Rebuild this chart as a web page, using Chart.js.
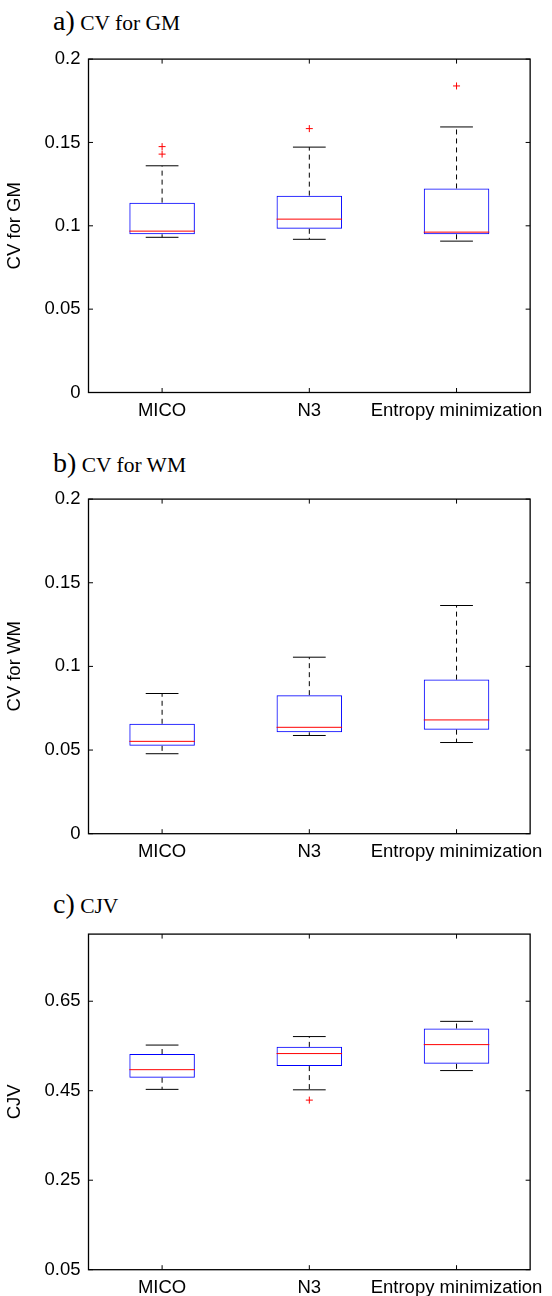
<!DOCTYPE html>
<html><head><meta charset="utf-8">
<script src="https://cdn.jsdelivr.net/npm/chart.js@4.4.1/dist/chart.umd.min.js"></script>
<style>
html,body{margin:0;padding:0;background:#fff;}
#wrap{position:relative;width:552px;height:1296px;overflow:hidden;background:#fff;}
.panel{position:absolute;left:0;width:552px;}
.ttl{position:absolute;left:53px;font-family:"Liberation Serif","Times New Roman",serif;font-size:28px;line-height:30px;white-space:nowrap;color:#000;}
.ttl span{font-size:21.5px;}
</style></head><body>
<div id="wrap">
<div class="ttl" style="top:5.5px">a)<span> CV for GM</span></div>
<div class="ttl" style="top:447.5px">b)<span> CV for WM</span></div>
<div class="ttl" style="top:888.5px">c)<span> CJV</span></div>
<div class="panel" style="top:40px;height:400px"><canvas id="cA" width="552" height="400"></canvas></div>
<div class="panel" style="top:480px;height:400px"><canvas id="cB" width="552" height="400"></canvas></div>
<div class="panel" style="top:915px;height:381px"><canvas id="cC" width="552" height="381"></canvas></div>
</div>
<script>
const categories = ['MICO', 'N3', 'Entropy minimization'];

// a) CV for GM
const gmLowerWhisker = [0.0931, 0.0919, 0.0908];
const gmQ1 = [0.0949, 0.0982, 0.0949];
const gmMedian = [0.0968, 0.1040, 0.0962];
const gmQ3 = [0.1139, 0.1181, 0.1224];
const gmUpperWhisker = [0.1360, 0.1472, 0.1593];
const gmOutlierCat = ['MICO', 'MICO', 'N3', 'Entropy minimization'];
const gmOutlierVal = [0.1475, 0.1430, 0.1583, 0.1839];
const gmTicks = [0, 0.05, 0.1, 0.15, 0.2];
const gmTickLabels = ['0', '0.05', '0.1', '0.15', '0.2'];

// b) CV for WM
const wmLowerWhisker = [0.0478, 0.0587, 0.0545];
const wmQ1 = [0.0525, 0.0606, 0.0622];
const wmMedian = [0.0552, 0.0636, 0.0680];
const wmQ3 = [0.0657, 0.0828, 0.0921];
const wmUpperWhisker = [0.0838, 0.1055, 0.1364];
const wmOutlierCat = [];
const wmOutlierVal = [];
const wmTicks = [0, 0.05, 0.1, 0.15, 0.2];
const wmTickLabels = ['0', '0.05', '0.1', '0.15', '0.2'];

// c) CJV
const cjvLowerWhisker = [0.453, 0.452, 0.495];
const cjvQ1 = [0.479, 0.505, 0.510];
const cjvMedian = [0.497, 0.533, 0.553];
const cjvQ3 = [0.532, 0.548, 0.589];
const cjvUpperWhisker = [0.552, 0.571, 0.605];
const cjvOutlierCat = ['N3'];
const cjvOutlierVal = [0.429];
const cjvTicks = [0.05, 0.25, 0.45, 0.65];
const cjvTickLabels = ['0.05', '0.25', '0.45', '0.65'];

const FONT = '"Liberation Sans", Arial, Helvetica, sans-serif';

function boxPlugin(lw, med, uw) {
  return {
    id: 'boxDetails',
    afterDatasetsDraw(chart) {
      const ctx = chart.ctx, x = chart.scales.x, y = chart.scales.y;
      const meta = chart.getDatasetMeta(0);
      ctx.save();
      meta.data.forEach((bar, i) => {
        const cx = x.getPixelForValue(i);
        const hw = bar.width / 2, cw = hw / 2;
        const [q1, q3] = chart.data.datasets[0].data[i];
        const pQ1 = y.getPixelForValue(q1), pQ3 = y.getPixelForValue(q3);
        const pL = y.getPixelForValue(lw[i]), pU = y.getPixelForValue(uw[i]);
        const pM = y.getPixelForValue(med[i]);
        ctx.lineWidth = 1;
        ctx.strokeStyle = '#000';
        ctx.setLineDash([5, 4]);
        ctx.beginPath();
        ctx.moveTo(cx, pQ3); ctx.lineTo(cx, pU);
        ctx.moveTo(cx, pQ1); ctx.lineTo(cx, pL);
        ctx.stroke();
        ctx.setLineDash([]);
        ctx.beginPath();
        ctx.moveTo(cx - cw, pU); ctx.lineTo(cx + cw, pU);
        ctx.moveTo(cx - cw, pL); ctx.lineTo(cx + cw, pL);
        ctx.stroke();
        ctx.strokeStyle = '#ff0000';
        ctx.beginPath();
        ctx.moveTo(cx - hw, pM); ctx.lineTo(cx + hw, pM);
        ctx.stroke();
      });
      ctx.restore();
    }
  };
}

const framePlugin = {
  id: 'frame',
  afterDraw(chart) {
    const ctx = chart.ctx, a = chart.chartArea, x = chart.scales.x, y = chart.scales.y;
    const tl = 4.5;
    ctx.save();
    ctx.strokeStyle = '#000';
    ctx.lineWidth = 1.3;
    ctx.strokeRect(a.left, a.top, a.right - a.left, a.bottom - a.top);
    ctx.lineWidth = 1;
    ctx.beginPath();
    y.ticks.forEach((t, i) => {
      const py = y.getPixelForTick(i);
      ctx.moveTo(a.left, py); ctx.lineTo(a.left + tl, py);
      ctx.moveTo(a.right, py); ctx.lineTo(a.right - tl, py);
    });
    x.ticks.forEach((t, i) => {
      const px = x.getPixelForTick(i);
      ctx.moveTo(px, a.bottom); ctx.lineTo(px, a.bottom - tl);
      ctx.moveTo(px, a.top); ctx.lineTo(px, a.top + tl);
    });
    ctx.stroke();
    ctx.restore();
  }
};

function makeChart(id, canvasTop, canvasH, areaTop, areaBottom, yTitle, ymin, ymax,
                   ticks, tickLabels, lw, q1, med, q3, uw, oCat, oVal) {
  const outliers = oCat.map((c, i) => ({ x: c, y: oVal[i] }));
  new Chart(document.getElementById(id), {
    type: 'bar',
    data: {
      labels: categories,
      datasets: [{
        type: 'bar',
        data: q1.map((v, i) => [v, q3[i]]),
        backgroundColor: 'rgba(0,0,0,0)',
        borderColor: '#0000ff',
        borderWidth: 1,
        borderSkipped: false,
        categoryPercentage: 1,
        barPercentage: 0.445
      }, {
        type: 'scatter',
        data: outliers,
        pointStyle: 'cross',
        pointRadius: 3.5,
        borderColor: '#ff0000',
        backgroundColor: '#ff0000',
        borderWidth: 1,
        showLine: false
      }]
    },
    options: {
      responsive: false,
      animation: false,
      events: [],
      layout: { padding: { top: areaTop - canvasTop, right: 12.7, bottom: 0, left: 0 } },
      plugins: { legend: { display: false }, tooltip: { enabled: false }, title: { display: false } },
      scales: {
        x: {
          type: 'category',
          offset: true,
          grid: { display: false, drawTicks: false },
          border: { display: false },
          ticks: { font: { family: FONT, size: 18.5 }, color: '#000', padding: 7.5, maxRotation: 0, autoSkip: false },
          afterFit: s => { s.height = canvasTop + canvasH - areaBottom; }
        },
        y: {
          type: 'linear',
          min: ymin, max: ymax,
          grid: { display: false, drawTicks: false },
          border: { display: false },
          ticks: {
            font: { family: FONT, size: 18.5 }, color: '#000', padding: 8,
            callback: (v, i) => tickLabels[i]
          },
          afterBuildTicks: s => { s.ticks = ticks.map(v => ({ value: v })); },
          afterFit: s => { s.width = 88.5; },
          title: { display: true, text: yTitle, color: '#000', font: { family: FONT, size: 18.5 }, padding: { top: 4, bottom: 0 } }
        }
      }
    },
    plugins: [boxPlugin(lw, med, uw), framePlugin]
  });
}

makeChart('cA', 40, 400, 49, 392.5, 'CV for GM', 0, 0.2, gmTicks, gmTickLabels,
  gmLowerWhisker, gmQ1, gmMedian, gmQ3, gmUpperWhisker, gmOutlierCat, gmOutlierVal);
makeChart('cB', 480, 400, 490.7, 833.7, 'CV for WM', 0, 0.2, wmTicks, wmTickLabels,
  wmLowerWhisker, wmQ1, wmMedian, wmQ3, wmUpperWhisker, wmOutlierCat, wmOutlierVal);
makeChart('cC', 915, 381, 927, 1269.7, 'CJV', 0.05, 0.8, cjvTicks, cjvTickLabels,
  cjvLowerWhisker, cjvQ1, cjvMedian, cjvQ3, cjvUpperWhisker, cjvOutlierCat, cjvOutlierVal);
</script>
</body></html>
